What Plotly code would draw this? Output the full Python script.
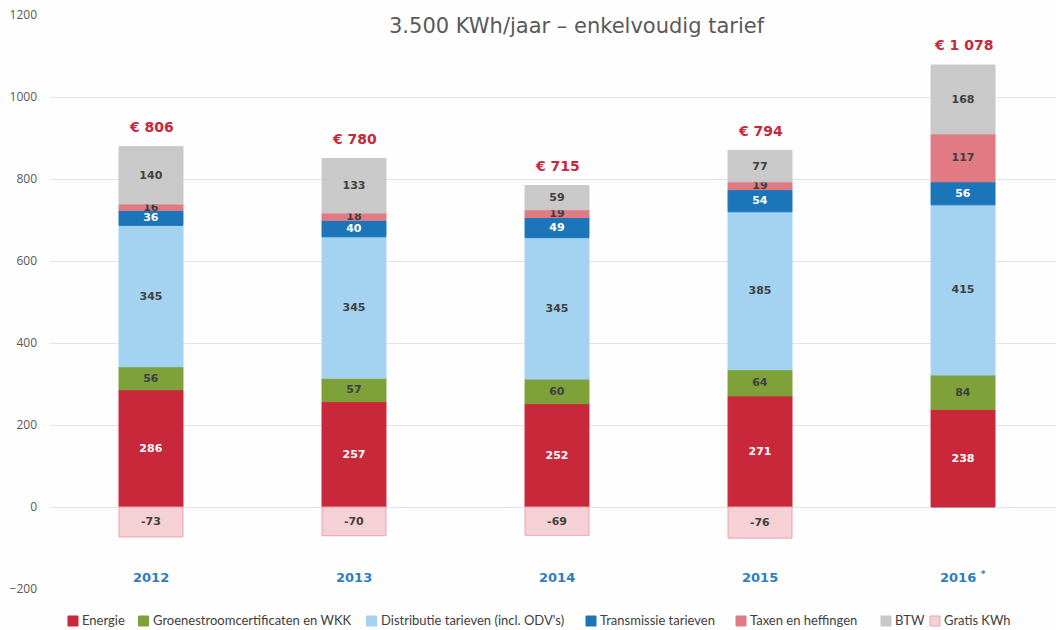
import plotly.graph_objects as go

years = ["2012", "2013", "2014", "2015", "2016 *"]
energie = [286, 257, 252, 271, 238]
groen = [56, 57, 60, 64, 84]
distributie = [345, 345, 345, 385, 415]
transmissie = [36, 40, 49, 54, 56]
taxen = [16, 18, 19, 19, 117]
btw = [140, 133, 59, 77, 168]
gratis = [-73, -70, -69, -76, None]

series = [
    ("Energie", energie, "#C8283A", "#C8283A", "white"),
    ("Groenestroomcertificaten en WKK", groen, "#7EA13A", "#7EA13A", "#404040"),
    ("Distributie tarieven (incl. ODV's)", distributie, "#A4D3F2", "#A4D3F2", "#404040"),
    ("Transmissie tarieven", transmissie, "#1B75B8", "#1B75B8", "white"),
    ("Taxen en heffingen", taxen, "#E17A83", "#E17A83", "#404040"),
    ("BTW", btw, "#C9C9C9", "#C9C9C9", "#404040"),
    ("Gratis KWh", gratis, "#F5D1D6", "#EFA3AB", "#404040"),
]

W, H = 1056, 630
L, R, T, B = 50, 0, 15, 41
PW, PH = W - L - R, H - T - B


def px_x(x):
    return (x - L) / PW


def px_y(y):
    # y in pixels from the top of the picture -> paper fraction
    return (H - B - y) / PH


fig = go.Figure()
for name, vals, col, line, tcol in series:
    fig.add_trace(go.Bar(
        x=years, y=vals, name=name,
        marker=dict(color=col, line=dict(color=line, width=1)),
        text=[("" if v is None else str(v)) for v in vals],
        textposition="inside", insidetextanchor="middle",
        textfont=dict(family="DejaVu Sans", size=11, color=tcol, weight="bold"),
        width=0.315, hoverinfo="skip", showlegend=False,
    ))

annotations = []
for i, yr in enumerate(years):
    pos = energie[i] + groen[i] + distributie[i] + transmissie[i] + taxen[i] + btw[i]
    total = pos + (gratis[i] or 0)
    label = "€ " + f"{total:,}".replace(",", " ")
    annotations.append(dict(x=i, y=pos + 48, xref="x", yref="y", text=label,
                            showarrow=False, yanchor="middle",
                            font=dict(family="DejaVu Sans", size=14, color="#C8283A", weight="bold")))
    if yr.endswith("*"):
        txt = yr[:-1].rstrip() + " <sup>*</sup>"
    else:
        txt = yr
    annotations.append(dict(x=i, y=-171, xref="x", yref="y", text=txt, showarrow=False,
                            yanchor="middle",
                            font=dict(family="DejaVu Sans", size=13, color="#2E7DBF", weight="bold")))

annotations.append(dict(x=px_x(577), y=px_y(26), xref="paper", yref="paper",
                        text="3.500 KWh/jaar – enkelvoudig tarief", showarrow=False,
                        xanchor="center", yanchor="middle",
                        font=dict(family="DejaVu Sans", size=21, color="#595959")))

# legend (manual, to match compact spacing)
legend_marker_left = [68, 138.5, 366.5, 586, 736, 881, 930]
shapes = []
for (name, vals, col, line, tcol), mx in zip(series, legend_marker_left):
    shapes.append(dict(type="rect", xref="paper", yref="paper",
                       x0=px_x(mx), x1=px_x(mx + 10), y0=px_y(626), y1=px_y(616),
                       fillcolor=col, line=dict(color=line, width=1)))
    annotations.append(dict(x=px_x(mx + 12), y=px_y(620), xref="paper", yref="paper",
                            text=name, showarrow=False, xanchor="left", yanchor="middle",
                            font=dict(family="Lato", size=13, color="#404040")))

fig.update_layout(
    width=W, height=H,
    margin=dict(l=L, r=R, t=T, b=B, autoexpand=False),
    paper_bgcolor="#FEFEFE", plot_bgcolor="#FEFEFE",
    barmode="relative",
    showlegend=False,
    uniformtext=dict(minsize=11, mode="show"),
    annotations=annotations,
    shapes=shapes,
    xaxis=dict(type="category", range=[-0.4975, 4.458], showticklabels=False, showgrid=False,
               zeroline=False, showline=False),
    yaxis=dict(range=[-200, 1200], tickvals=[-200, 0, 200, 400, 600, 800, 1000, 1200],
               gridcolor="#E4E4E4", gridwidth=1, zeroline=True, zerolinecolor="#E4E4E4", zerolinewidth=1,
               showline=False, tickfont=dict(family="Open Sans", size=12, color="#595959"),
               ticks="", ticklabelstandoff=12),
)

fig.write_html("out.html", config={"displayModeBar": False},
               post_script="document.body.style.margin='0px';document.body.style.overflow='hidden';")
